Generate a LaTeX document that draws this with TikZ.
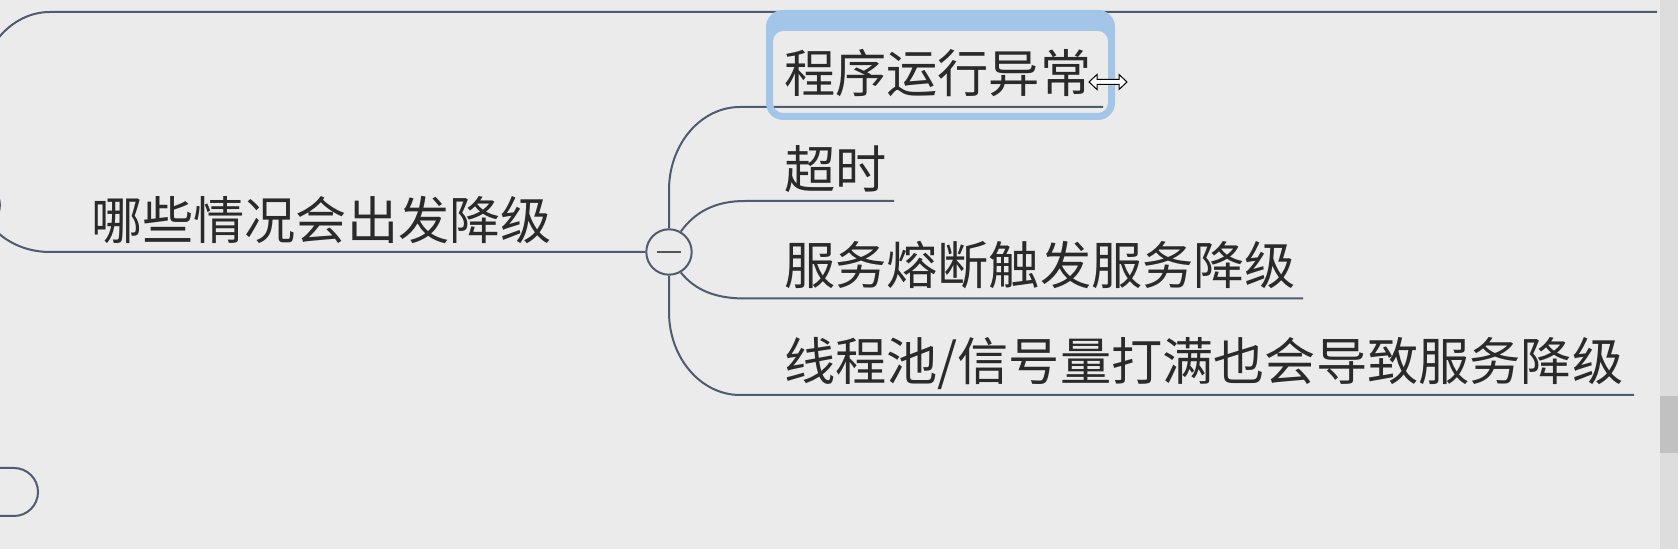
\documentclass[tikz,border=0pt]{standalone}
\usepackage{fontspec}
\newfontfamily\cjk{Noto Sans CJK SC}
\definecolor{bg}{HTML}{EBEBEB}
\definecolor{ln}{HTML}{4F5B70}
\definecolor{sel}{HTML}{A3C6E8}
\definecolor{txt}{HTML}{2A2A2A}
\definecolor{track}{HTML}{DDDDDD}
\definecolor{thumb}{HTML}{C1C1C1}
\definecolor{minus}{HTML}{555555}
\begin{document}
\begin{tikzpicture}[x=0.5pt,y=-0.5pt,
  conn/.style={draw=ln, line width=1pt},
  topic/.style={anchor=base west, inner sep=0pt, outer sep=0pt,
    font=\cjk\fontsize{25.6pt}{30pt}\selectfont, text=txt},
  hubstyle/.style={circle, draw=ln, line width=1pt, fill=bg,
    minimum size=22.7pt, inner sep=0pt}]
\fill[bg] (0,0) rectangle (1678,549);
\useasboundingbox (0,0) rectangle (1678,549);
\clip (0,0) rectangle (1678,549);

% offscreen / edge coordinates
\coordinate (pTop) at (-21,130);
\coordinate (pBot) at (-21,150);
\coordinate (u0) at (1657,12);
\coordinate (u1) at (1103,107);
\coordinate (u2) at (894,201);
\coordinate (u3) at (1303,298.5);
\coordinate (u4) at (1634,395);

% texts
\node[topic] (main) at (91,240) {哪些情况会出发降级};
\node[topic] (c1) at (784,93) {程序运行异常};
\node[topic] (c2) at (784,189) {超时};
\node[topic] (c3) at (784,285) {服务熔断触发服务降级};
\node[topic] (c4) at (784,381) {线程池/信号量打满也会导致服务降级};

% hub
\node[hubstyle] (hub) at (669,252) {};
\draw[minus, line width=1.2pt] ([xshift=-6pt]hub.center) -- ([xshift=6pt]hub.center);

% parent-side connectors
\draw[conn] (pTop) -- (-21,95) .. controls (-21,49.2) and (10.8,12) .. (50,12) -- (u0);
\draw[conn] (pBot) -- (-21,192) .. controls (-21,225.1) and (10.8,252) .. (50,252) -- (hub.west);
\node[hubstyle] (parent) at (-22.8,205) {};

% child connectors
\draw[conn] (hub.north) -- (669,190) .. controls (669,144.2) and (700.8,107) .. (740,107) -- (u1);
\draw[conn] (hub.60) .. controls (695,212) and (715,201) .. (745,201) -- (u2);
\draw[conn] (hub.-60) .. controls (695,290) and (715,298.5) .. (745,298.5) -- (u3);
\draw[conn] (hub.south) -- (669,312) .. controls (669,357.8) and (700.8,395) .. (740,395) -- (u4);

% collapsed badge bottom-left
\draw[ln, line width=1pt, fill=bg, rounded corners=12pt] (-40,468) rectangle (38,516);

% selection frame around c1 (thicker top edge)
\fill[sel, even odd rule, rounded corners=8.5pt] (766,10) rectangle (1115,120)
  [rounded corners=5pt] (773,31) rectangle (1108,113);

% resize cursor
\draw[black, line width=0.5pt, fill=white, line join=miter]
  (1089,82) -- (1097,74.5) -- (1097,79.5) -- (1119,79.5) -- (1119,74.5) -- (1127,82)
  -- (1119,89.5) -- (1119,84.5) -- (1097,84.5) -- (1097,89.5) -- cycle;

% scrollbar
\fill[track] (1660,0) rectangle (1678,549);
\fill[thumb] (1660,396) rectangle (1678,453);
\end{tikzpicture}
\end{document}
